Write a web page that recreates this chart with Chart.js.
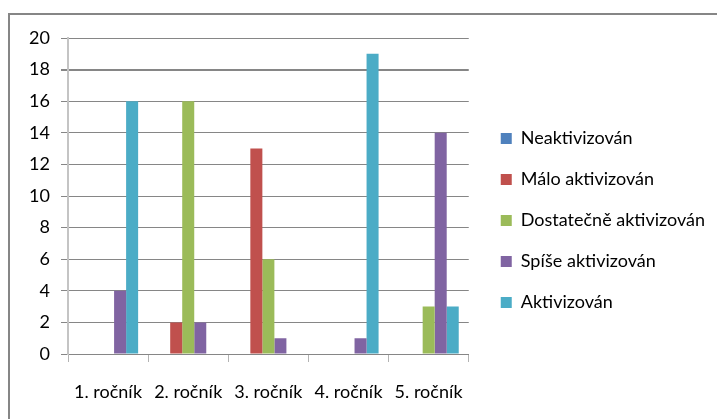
<!DOCTYPE html>
<html lang="cs">
<head>
    <meta charset="UTF-8">
    <title>Aktivizace žáků podle ročníku</title>
    <script src="https://cdn.jsdelivr.net/npm/chart.js"></script>
    <style>
        body {
            margin: 0;
            background: #ffffff;
            overflow: hidden;
        }
        .frame {
            position: absolute;
            left: 8px;
            top: 13px;
            width: 800px;
            height: 500px;
            border-left: 2px solid #868686;
            border-top: 2px solid #868686;
        }
        .chart-container {
            position: absolute;
            left: 0;
            top: 0;
            width: 717px;
            height: 419px;
        }
    </style>
</head>
<body>
    <div class="frame"></div>
    <div class="chart-container">
        <canvas id="chart"></canvas>
    </div>

    <script>
        const categories = ['1. ročník', '2. ročník', '3. ročník', '4. ročník', '5. ročník'];
        const seriesNames = ['Neaktivizován', 'Málo aktivizován', 'Dostatečně aktivizován', 'Spíše aktivizován', 'Aktivizován'];
        const neaktivizovan = [0, 0, 0, 0, 0];
        const maloAktivizovan = [0, 2, 13, 0, 0];
        const dostatecneAktivizovan = [0, 16, 6, 0, 3];
        const spiseAktivizovan = [4, 2, 1, 1, 14];
        const aktivizovan = [16, 0, 0, 19, 3];
        const seriesColors = ['#4F81BD', '#C0504D', '#9BBB59', '#8064A2', '#4BACC6'];
        const yTicks = [0, 2, 4, 6, 8, 10, 12, 14, 16, 18, 20];

        const seriesValues = [neaktivizovan, maloAktivizovan, dostatecneAktivizovan, spiseAktivizovan, aktivizovan];

        const font = { family: 'Lato, "Liberation Sans", sans-serif', size: 18 };

        // the legend box is capped at a quarter of the width, so widen it
        // to the canvas edge (it clips to its box) and nudge it into place
        const legendNudge = {
            id: 'legendNudge',
            afterLayout(chart) {
                const l = chart.legend;
                l.left += 9;
                l.right = chart.width;
                l.width = l.right - l.left;
                l.top -= 8; l.bottom -= 8;
            }
        };

        new Chart(document.getElementById('chart'), {
            type: 'bar',
            data: {
                labels: categories,
                datasets: seriesNames.map((name, i) => ({
                    label: name,
                    data: seriesValues[i],
                    backgroundColor: seriesColors[i],
                    borderWidth: 0,
                    categoryPercentage: 0.75,
                    barPercentage: 1
                }))
            },
            options: {
                responsive: true,
                maintainAspectRatio: false,
                animation: false,
                layout: { padding: { top: 38, right: 92, bottom: 0, left: 0 } },
                plugins: {
                    tooltip: { enabled: false },
                    legend: {
                        position: 'right',
                        labels: {
                            font: font,
                            color: '#000000',
                            boxWidth: 11,
                            boxHeight: 11,
                            padding: 23
                        }
                    }
                },
                scales: {
                    x: {
                        grid: {
                            offset: true,
                            drawOnChartArea: false,
                            drawTicks: true,
                            tickLength: 8,
                            color: '#b3b3b3'
                        },
                        border: { color: '#868686', width: 1 },
                        ticks: { font: font, color: '#000000', padding: 19, maxRotation: 0 },
                        afterFit(scale) { scale.height = 65; }
                    },
                    y: {
                        min: yTicks[0],
                        max: yTicks[yTicks.length - 1],
                        afterBuildTicks(scale) { scale.ticks = yTicks.map(v => ({ value: v })); },
                        grid: {
                            color: '#868686',
                            lineWidth: ctx => (ctx.tick && ctx.tick.value === 18 ? 2 : 1),
                            tickLength: 7
                        },
                        border: { color: '#c4c4c4', width: 2 },
                        ticks: { font: font, color: '#000000', padding: 11 },
                        afterFit(scale) { scale.width = 68; }
                    }
                }
            },
            plugins: [legendNudge]
        });
    </script>
</body>
</html>
